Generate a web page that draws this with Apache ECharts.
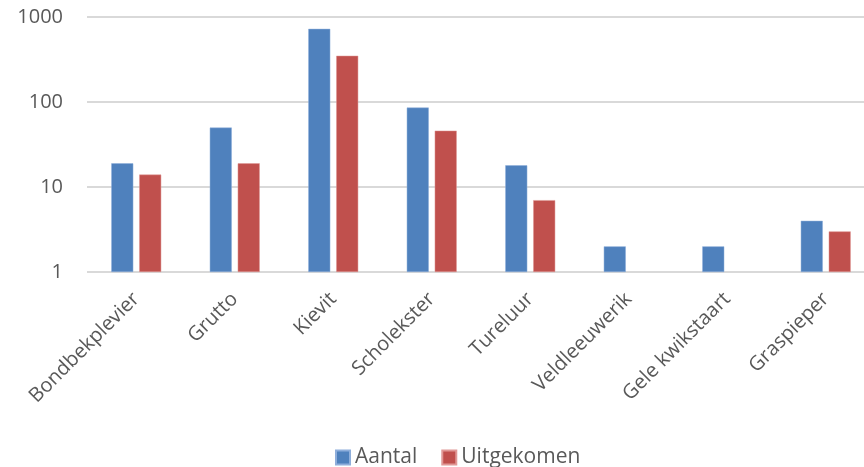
<!DOCTYPE html>
<html>
<head>
<meta charset="utf-8">
<script src="https://cdn.jsdelivr.net/npm/echarts@6/dist/echarts.min.js"></script>
<style>
html,body{margin:0;padding:0;background:#fff;overflow:hidden;}
#chart{width:875px;height:467px;}
</style>
</head>
<body>
<div id="chart"></div>
<script>
var soorten=['Bondbekplevier','Grutto','Kievit','Scholekster','Tureluur','Veldleeuwerik','Gele kwikstaart','Graspieper'];
var aantal=[19,50,725,86,18,2,2,4];
var uitgekomen=[14,19,350,46,7,null,null,3];
var yTicks=[1,10,100,1000];

// the plot area of the original runs a little past the right edge
var chart=echarts.init(document.getElementById('chart'));
var fontFam='"Open Sans", "DejaVu Sans", sans-serif';

var option={
    animation:false,
    textStyle:{fontFamily:fontFam},
    grid:{
        left:87,
        right:0,
        top:17,
        height:255,
        containLabel:false
    },
    legend:{
        data:['Aantal','Uitgekomen'],
        top:442,
        left:330,
        itemWidth:14,
        itemHeight:14,
        itemGap:24,
        icon:'rect',
        textStyle:{fontSize:21,color:'#595959',fontFamily:fontFam}
    },
    xAxis:{
        type:'category',
        data:soorten,
        axisLine:{show:false},
        axisTick:{show:false},
        axisLabel:{
            rotate:45,
            interval:0,
            margin:24,
            fontSize:20,
            color:'#595959',
            fontFamily:fontFam
        }
    },
    yAxis:{
        type:'log',
        logBase:10,
        min:yTicks[0],
        max:yTicks[yTicks.length-1],
        axisLine:{show:false},
        axisTick:{show:false},
        axisLabel:{
            fontSize:20,
            color:'#595959',
            margin:24,
            fontFamily:fontFam,
            formatter:function(v){return String(Math.round(v));}
        },
        splitLine:{lineStyle:{color:'#D9D9D9',width:2}}
    },
    series:[
        {
            name:'Aantal',
            type:'bar',
            data:aantal,
            barWidth:22,
            barGap:'27%',
            itemStyle:{color:'#4F81BD',borderColor:'#8EAEDB',borderWidth:0.5}
        },
        {
            name:'Uitgekomen',
            type:'bar',
            data:uitgekomen,
            barWidth:22,
            itemStyle:{color:'#C0504D',borderColor:'#E09896',borderWidth:0.5}
        }
    ]
};
chart.setOption(option);
</script>
</body>
</html>
